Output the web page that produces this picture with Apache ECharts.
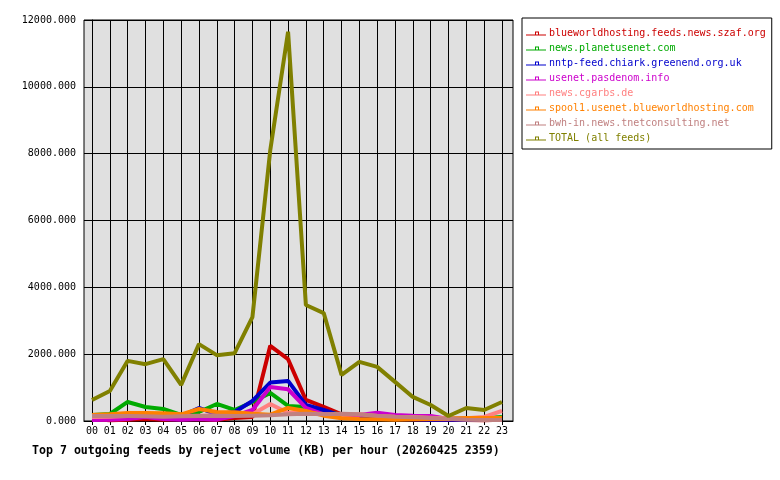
<!DOCTYPE html>
<html>
<head>
<meta charset="utf-8">
<title>reject volume per hour</title>
<script src="https://cdn.jsdelivr.net/npm/echarts@6.0.0/dist/echarts.min.js"></script>
<style>
  html, body { margin: 0; padding: 0; background: #fff; }
  #main { width: 780px; height: 480px; }
</style>
</head>
<body>
<div id="main"></div>
<script>
// x categories: hour of day
const hours = ['00', '01', '02', '03', '04', '05', '06', '07', '08', '09', '10', '11',
  '12', '13', '14', '15', '16', '17', '18', '19', '20', '21', '22', '23'];

// y ticks (KB)
const yTicks = [0, 2000, 4000, 6000, 8000, 10000, 12000];

// feed names, in legend order
const feedNames = [
  'blueworldhosting.feeds.news.szaf.org',
  'news.planetusenet.com',
  'nntp-feed.chiark.greenend.org.uk',
  'usenet.pasdenom.info',
  'news.cgarbs.de',
  'spool1.usenet.blueworldhosting.com',
  'bwh-in.news.tnetconsulting.net',
  'TOTAL (all feeds)'
];

// reject volume per hour, KB
const szaf = [60, 20, 40, 60, 40, 60, 50, 40, 90, 120, 2250, 1850, 630, 420, 200, 120, 100, 60, 50, 40, 30, 30, 20, 40];
const planetusenet = [180, 210, 570, 420, 360, 180, 270, 510, 330, 570, 840, 450, 420, 300, 180, 150, 120, 110, 100, 90, 80, 80, 80, 120];
const chiark = [100, 120, 200, 180, 200, 150, 390, 200, 270, 600, 1150, 1200, 480, 330, 150, 100, 80, 60, 50, 40, 40, 40, 40, 50];
const pasdenom = [30, 40, 60, 120, 60, 40, 60, 40, 150, 330, 1020, 950, 390, 200, 150, 180, 250, 180, 160, 150, 60, 60, 50, 40];
const cgarbs = [120, 130, 150, 160, 150, 150, 160, 170, 180, 200, 510, 240, 250, 200, 180, 200, 150, 130, 120, 100, 80, 80, 120, 300];
const spool1 = [180, 200, 240, 240, 230, 200, 360, 270, 260, 220, 190, 390, 300, 160, 80, 60, 50, 40, 50, 60, 60, 90, 90, 90];
const tnetconsulting = [150, 150, 150, 140, 130, 140, 150, 160, 150, 160, 170, 200, 220, 200, 220, 200, 160, 130, 110, 90, 70, 40, 30, 30];
const total = [630, 900, 1800, 1700, 1850, 1080, 2300, 1970, 2030, 3110, 8100, 11650, 3470, 3230, 1380, 1770, 1620, 1170, 720, 480, 150, 390, 330, 570];

const feedValues = [szaf, planetusenet, chiark, pasdenom, cgarbs, spool1, tnetconsulting, total];
const feedColors = ['#cc0000', '#00aa00', '#0000cc', '#cc00cc', '#ff8080', '#ff8000', '#c08080', '#808000'];

const FONT = '"DejaVu Sans Mono", "Liberation Mono", monospace';

// little line-with-marker legend icon
const legendIcon = 'path://M0,4L20,4L20,5L0,5Z M9,1L13,1L13,4L12,4L12,2L10,2L10,4L9,4Z';

const hourIdx = hours.map((h, i) => i);

const series = feedNames.map((name, k) => ({
  name: name,
  type: 'line',
  symbol: 'none',
  color: feedColors[k],
  lineStyle: { width: 4, color: feedColors[k] },
  emphasis: { disabled: true },
  data: feedValues[k].map((v, i) => [i, v])
}));

const option = {
  animation: false,
  backgroundColor: '#fff',
  title: {
    text: 'Top 7 outgoing feeds by reject volume (KB) per hour (20260425 2359)',
    left: 32,
    top: 445,
    padding: 0,
    textStyle: { fontFamily: FONT, fontSize: 11.6, fontWeight: 'bold', color: '#000' }
  },
  legend: {
    orient: 'vertical',
    left: 522,
    top: 18,
    padding: [9, 6, 4, 4],
    itemGap: 2,
    itemWidth: 20,
    itemHeight: 5,
    backgroundColor: '#fff',
    borderColor: '#000',
    borderWidth: 1,
    borderRadius: 0,
    selectedMode: false,
    icon: legendIcon,
    textStyle: { fontFamily: FONT, fontSize: 10, lineHeight: 13, padding: [0, 0, 0, -2] },
    data: feedNames.map((name, k) => ({ name: name, textStyle: { color: feedColors[k] } }))
  },
  grid: {
    left: 84,
    right: 267,
    top: 20,
    bottom: 59,
    show: true,
    backgroundColor: '#e0e0e0',
    borderColor: '#000',
    borderWidth: 1
  },
  xAxis: {
    type: 'value',
    min: -0.45,
    max: 23.62,
    axisLine: { lineStyle: { color: '#000', width: 1 } },
    axisTick: { show: true, length: 4, customValues: hourIdx, lineStyle: { color: '#000' } },
    axisLabel: {
      customValues: hourIdx,
      margin: 5,
      color: '#000',
      fontFamily: FONT,
      fontSize: 10,
      formatter: (v) => hours[v]
    },
    splitLine: { show: true, lineStyle: { color: '#000', width: 1 } }
  },
  yAxis: {
    type: 'value',
    min: yTicks[0],
    max: yTicks[yTicks.length - 1],
    interval: 2000,
    axisLine: { show: true, lineStyle: { color: '#000', width: 1 } },
    axisTick: { show: true, length: 4, lineStyle: { color: '#000' } },
    axisLabel: {
      margin: 8,
      color: '#000',
      fontFamily: FONT,
      fontSize: 10,
      formatter: (v) => v.toFixed(3)
    },
    splitLine: { show: true, lineStyle: { color: '#000', width: 1 } }
  },
  series: series
};

const myChart = echarts.init(document.getElementById('main'), null, { renderer: 'canvas' });
myChart.setOption(option);
</script>
</body>
</html>
